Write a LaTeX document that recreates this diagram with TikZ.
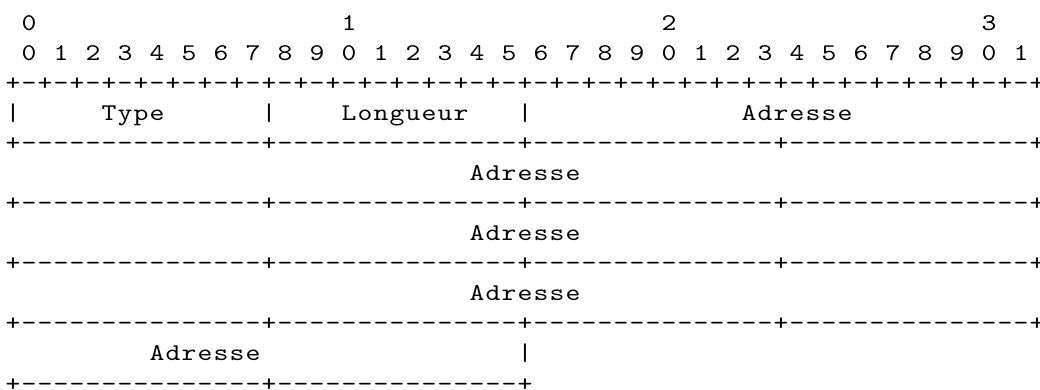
\documentclass[tikz,border=0pt]{standalone}
\usepackage{fontspec}
\newfontfamily\lmm{lmmono10-regular.otf}
\newcommand\bl[1]{-(30.3+(#1-1)*30.06)}
\tikzset{
  ch/.style={anchor=base, inner sep=0pt, outer sep=0pt,
    font=\lmm\fontsize{24pt}{30pt}\selectfont, text=black},
}
% place a string one character per 16pt cell: \cells{row}{first column}{text}
\newcommand\cells[3]{\def\crow{#1}\def\ccol{#2}\cellloop#3\relax}
\def\cellloop#1{\ifx#1\relax\else
  \node[ch] (c\crow-\ccol) at ({5+8+16*\ccol},{\bl{\crow}}) {\scalebox{1.18}[1]{#1}};%
  \pgfmathtruncatemacro\ccol{\ccol+1}%
  \expandafter\cellloop\fi}
\begin{document}
\begin{tikzpicture}[x=1pt,y=1pt]
\useasboundingbox (0,0) rectangle (1040,-390);
% row 1: decades
\cells{1}{1}{0}
\cells{1}{21}{1}
\cells{1}{41}{2}
\cells{1}{61}{3}
% row 2: bit numbers
\foreach \i in {0,...,31}{
  \pgfmathtruncatemacro\dig{mod(\i,10)}
  \pgfmathtruncatemacro\col{1+2*\i}
  \cells{2}{\col}{\dig}
}
% row 3
\cells{3}{0}{+-+-+-+-+-+-+-+-+-+-+-+-+-+-+-+-+-+-+-+-+-+-+-+-+-+-+-+-+-+-+-+-+}
% row 4
\cells{4}{0}{|}
\cells{4}{6}{Type}
\cells{4}{16}{|}
\cells{4}{21}{Longueur}
\cells{4}{32}{|}
\cells{4}{46}{Adresse}
% rows 5..11
\cells{5}{0}{+---------------+---------------+---------------+---------------+}
\cells{6}{29}{Adresse}
\cells{7}{0}{+---------------+---------------+---------------+---------------+}
\cells{8}{29}{Adresse}
\cells{9}{0}{+---------------+---------------+---------------+---------------+}
\cells{10}{29}{Adresse}
\cells{11}{0}{+---------------+---------------+---------------+---------------+}
% rows 12-13
\cells{12}{9}{Adresse}
\cells{12}{32}{|}
\cells{13}{0}{+---------------+---------------+}
\end{tikzpicture}
\end{document}
